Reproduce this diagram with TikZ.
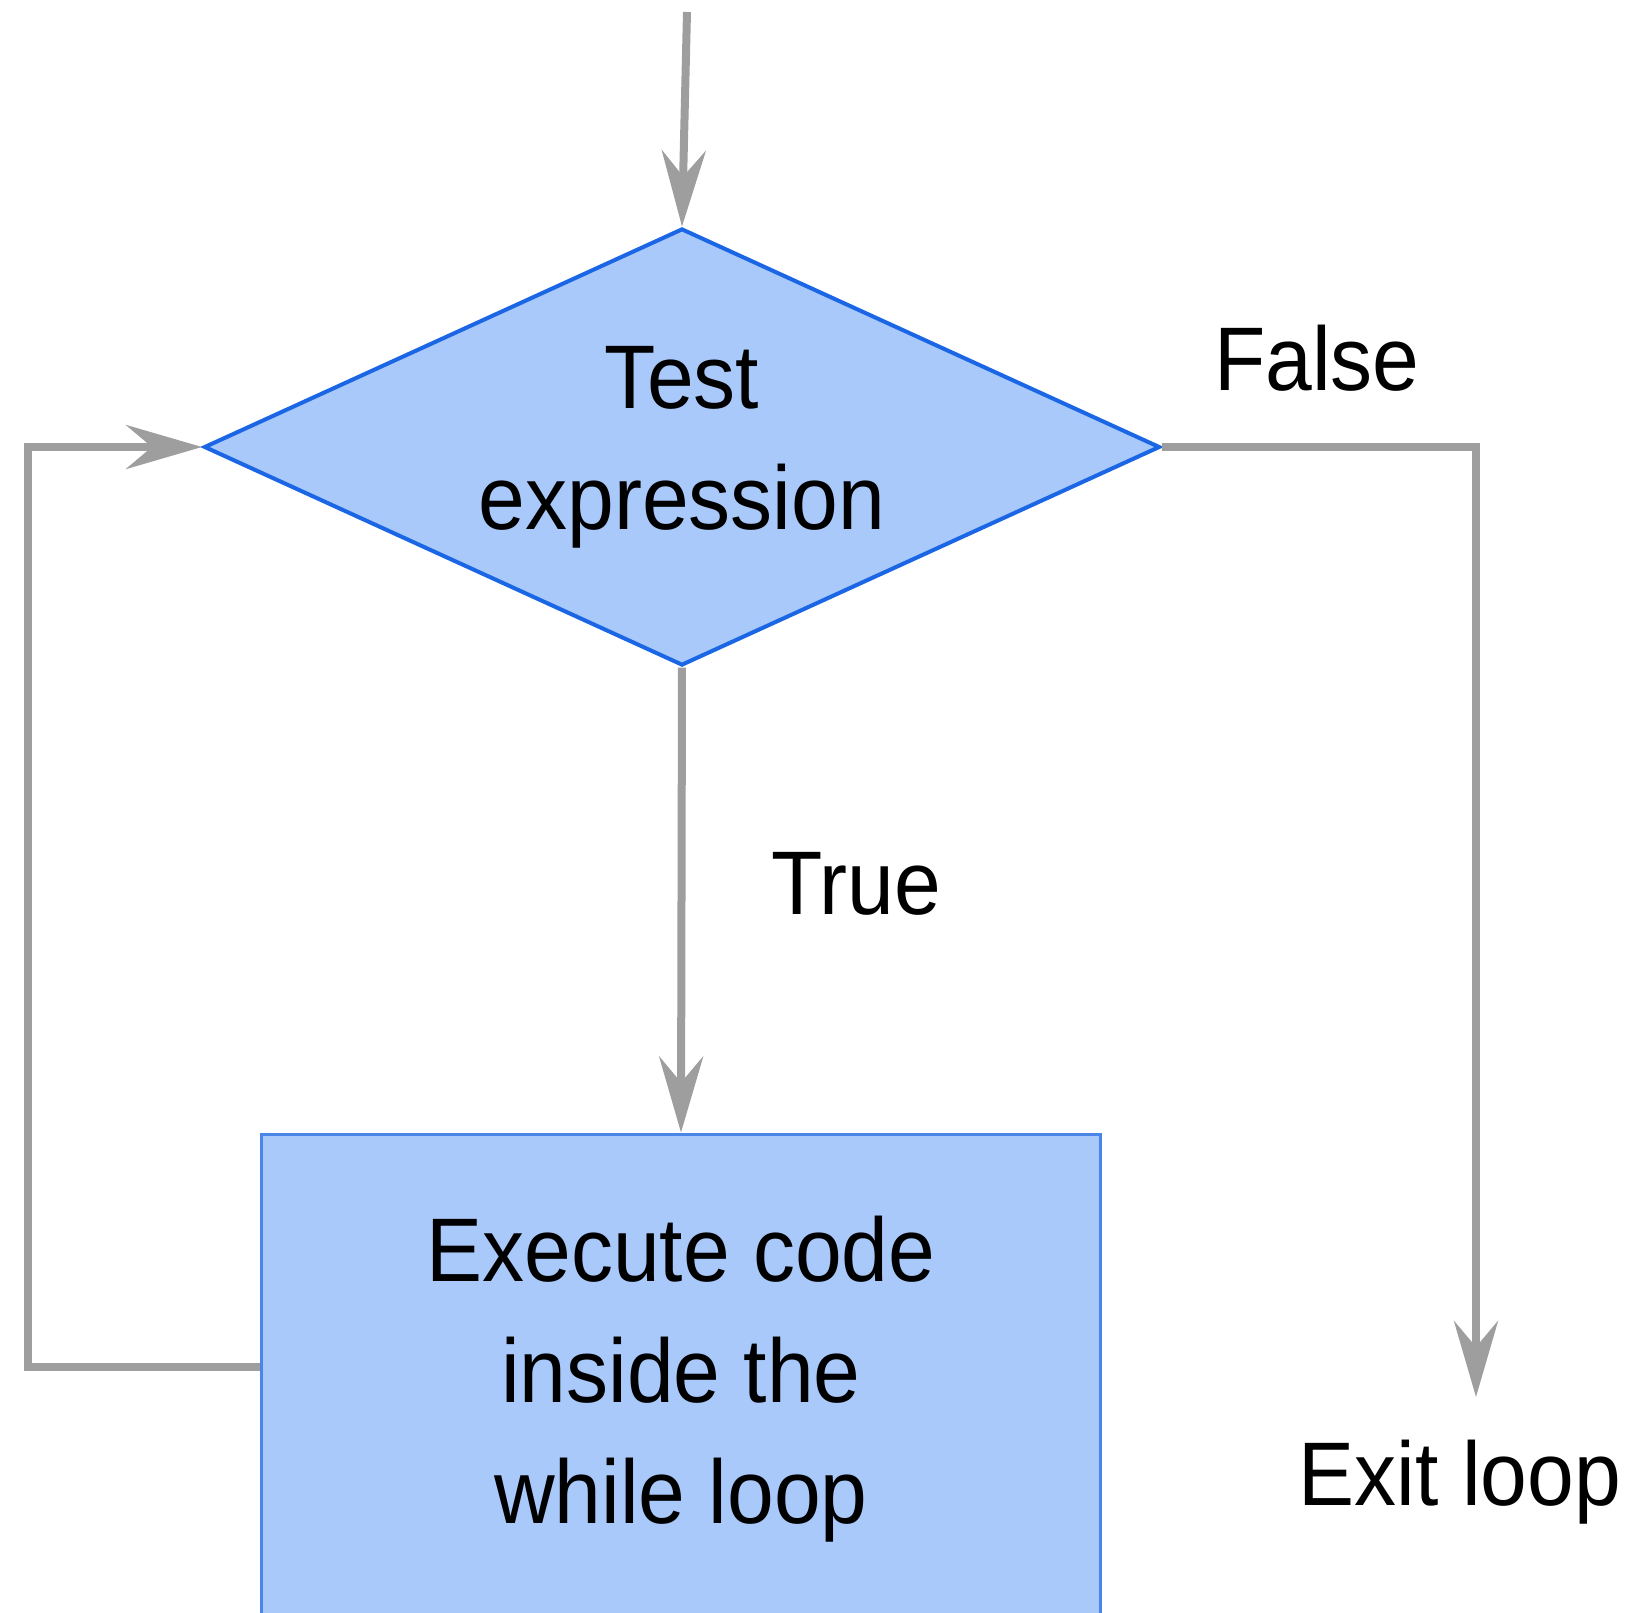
\documentclass[tikz,border=0pt]{standalone}
\usepackage{fontspec}
\setmainfont[FakeStretch=0.93]{Liberation Sans}
\usepackage{xcolor}
\usetikzlibrary{shapes.geometric, arrows.meta, positioning}
\definecolor{blu1}{RGB}{169,201,251}
\definecolor{blu2}{RGB}{26,102,229}
\definecolor{blu3}{RGB}{74,134,232}
\definecolor{gry1}{RGB}{158,158,158}
\tikzstyle{cond} = [diamond, aspect=2.19, draw=blu2, line width=0.04cm, fill=blu1,
    minimum width=9.56cm, minimum height=4.37cm, inner sep=0pt, align=center]
\tikzstyle{body} = [rectangle, draw=blu3, line width=0.035cm, fill=blu1,
    minimum width=8.39cm, minimum height=4.9cm, align=center]
\tikzstyle{lbl} = [inner sep=0pt]
\tikzstyle{arrow} = [gry1, line width=0.08cm,
    -{Stealth[length=0.76cm, width=0.44cm, inset=0.26cm]}]

\begin{document}
\begin{tikzpicture}[font=\fontsize{25.7}{34.4}\selectfont]
    \useasboundingbox (0,0) rectangle (16.41,-16.13);
    \node (test) [cond] at (6.82,-4.47) {Test\\expression};
    \node (loop) [body, below=4.65cm of test, xshift=-0.01cm] {Execute code\\inside the\\while loop};
    \coordinate (start) at (6.87,-0.12);
    \coordinate (exitpt) at (14.76,-13.97);
    \coordinate (back) at ([yshift=0.12cm]loop.west);
    \node (exit) [lbl, anchor=north] at (14.60,-14.39) {Exit loop};
    \node (false) [lbl] at (13.17,-3.58) {False};
    \node (true) [lbl] at (8.56,-8.84) {True};

    % Arrows
    \draw [arrow] (start) -- (test.north);
    \draw [arrow] (test.south) -- (loop.north);
    \draw [arrow] (back) -- ++(-2.32,0) |- (test.west);
    \draw [arrow] (test.east) -| (exitpt);
\end{tikzpicture}
\end{document}
